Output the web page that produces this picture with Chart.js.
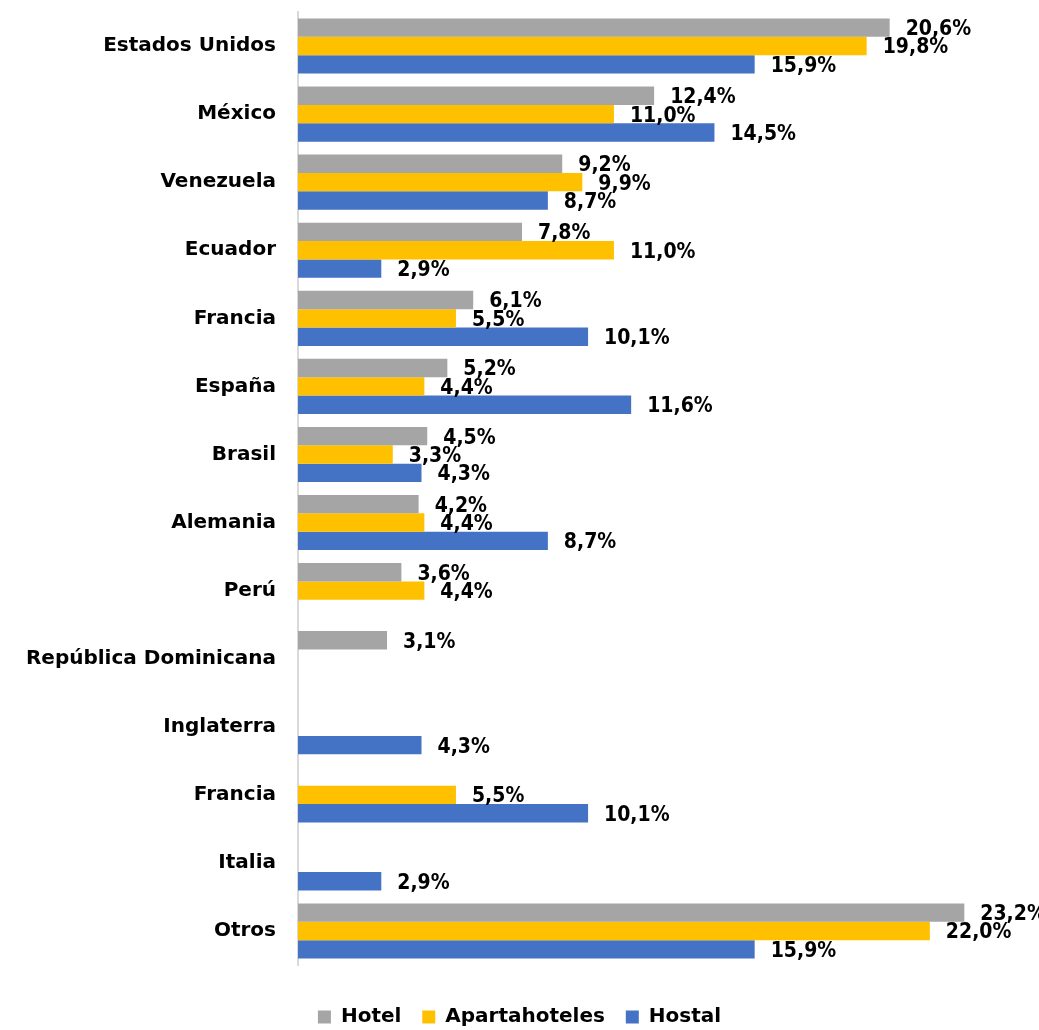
<!DOCTYPE html>
<html>
<head>
<meta charset="utf-8">
<script src="https://cdn.jsdelivr.net/npm/chart.js@4"></script>
<style>
html,body{margin:0;padding:0;background:#fff;}
#wrap{width:1039px;height:1030px;position:relative;}
</style>
</head>
<body>
<div id="wrap"><canvas id="c" width="1039" height="1030"></canvas></div>
<script>
const categories = ["Estados Unidos","México","Venezuela","Ecuador","Francia","España","Brasil","Alemania","Perú","República Dominicana","Inglaterra","Francia","Italia","Otros"];
const hotel = [20.6,12.4,9.2,7.8,6.1,5.2,4.5,4.2,3.6,3.1,null,null,null,23.2];
const apartahoteles = [19.8,11.0,9.9,11.0,5.5,4.4,3.3,4.4,4.4,null,null,5.5,null,22.0];
const hostal = [15.9,14.5,8.7,2.9,10.1,11.6,4.3,8.7,null,null,4.3,10.1,2.9,15.9];
const seriesNames = ["Hotel","Apartahoteles","Hostal"];
const seriesColors = ["#A5A5A5","#FFC000","#4472C4"];

const labelFont = "bold 21px 'DejaVu Sans Condensed', 'DejaVu Sans', sans-serif";

const valueLabels = {
  id: 'valueLabels',
  afterDatasetsDraw(chart) {
    const ctx = chart.ctx;
    ctx.save();
    ctx.font = labelFont;
    ctx.fillStyle = '#000';
    ctx.textAlign = 'left';
    ctx.textBaseline = 'middle';
    chart.data.datasets.forEach((ds, i) => {
      const meta = chart.getDatasetMeta(i);
      meta.data.forEach((bar, j) => {
        const v = ds.data[j];
        if (v === null || v === undefined) return;
        const txt = v.toFixed(1).replace('.', ',') + '%';
        ctx.fillText(txt, bar.x + 16, bar.y + 2);
      });
    });
    ctx.restore();
  }
};

new Chart(document.getElementById('c'), {
  type: 'bar',
  data: {
    labels: categories,
    datasets: [
      {label: seriesNames[0], data: hotel, backgroundColor: seriesColors[0]},
      {label: seriesNames[1], data: apartahoteles, backgroundColor: seriesColors[1]},
      {label: seriesNames[2], data: hostal, backgroundColor: seriesColors[2]}
    ]
  },
  options: {
    indexAxis: 'y',
    responsive: false,
    animation: false,
    devicePixelRatio: 1,
    layout: {padding: {top: 12, right: 0, bottom: -7, left: 0}},
    datasets: {bar: {categoryPercentage: 0.81, barPercentage: 1.0}},
    scales: {
      x: {
        min: 0, max: 25.8,
        display: true,
        grid: {display: false},
        border: {display: false},
        ticks: {display: false},
        afterFit(scale) { scale.height = 42; }
      },
      y: {
        grid: {display: false},
        border: {display: true, color: '#D9D9D9', width: 2},
        ticks: {
          autoSkip: false,
          color: '#000',
          padding: 14,
          font: {family: "'DejaVu Sans', sans-serif", weight: 'bold', size: 20}
        },
        afterFit(scale) {
          scale.width = 298;
          scale.paddingTop = 0;
          scale.paddingBottom = 0;
        }
      }
    },
    plugins: {
      legend: {
        position: 'bottom',
        labels: {
          boxWidth: 13, boxHeight: 13,
          padding: 0,
          color: '#000',
          font: {family: "'DejaVu Sans', sans-serif", weight: 'bold', size: 20},
          generateLabels(chart) {
            const items = Chart.defaults.plugins.legend.labels.generateLabels(chart);
            items.forEach((it, i) => {
              it.lineWidth = 0;
              if (i < items.length - 1) it.text = it.text + '   ';
            });
            return items;
          }
        }
      },
      tooltip: {enabled: false}
    }
  },
  plugins: [valueLabels]
});
</script>
</body>
</html>
